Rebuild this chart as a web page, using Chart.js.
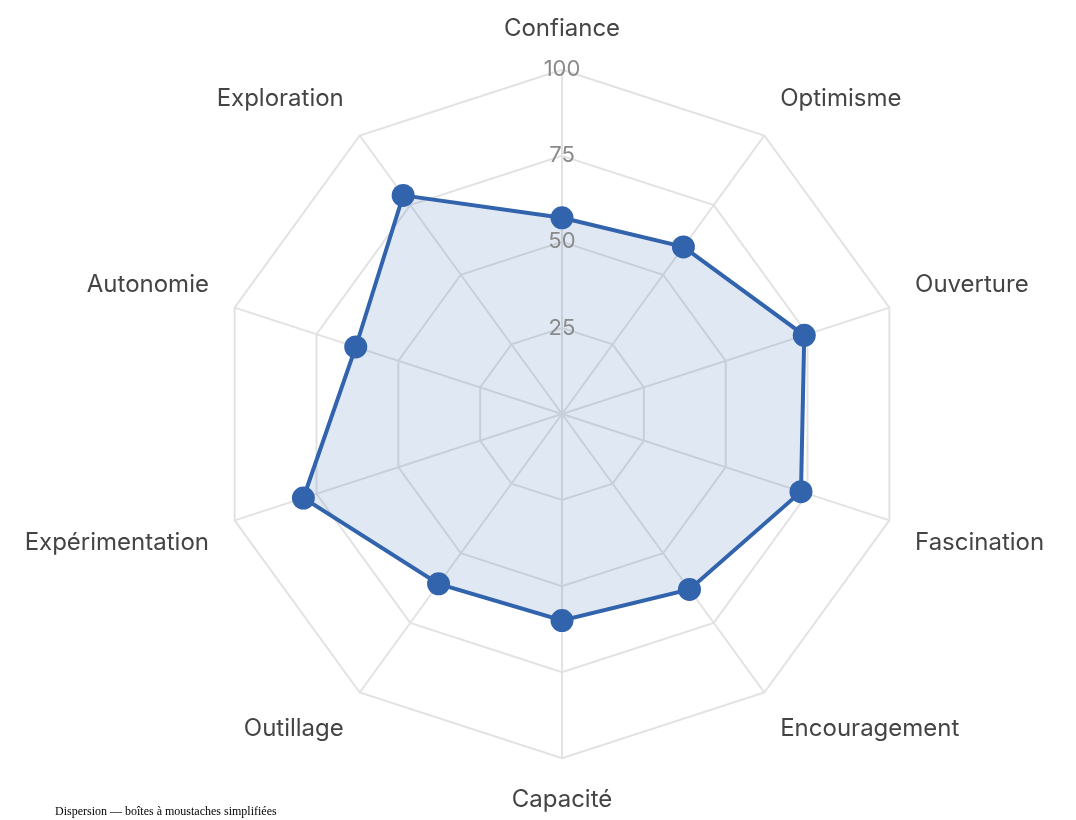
<!DOCTYPE html>
<html lang="fr">
<head>
<meta charset="utf-8">
<title>Radar</title>
<script src="https://cdn.jsdelivr.net/npm/chart.js@4.4.1/dist/chart.umd.min.js"></script>
<style>
    html, body { margin: 0; padding: 0; background: #fff; }
    #zone { position: relative; width: 1076px; height: 820px; }
    #zone canvas { position: absolute; left: 0; top: 0; }
    .legende {
        position: absolute; left: 55px; top: 804px;
        font-family: "Liberation Serif", "DejaVu Serif", serif;
        font-size: 12px; color: #000;
    }
</style>
</head>
<body>
<div id="zone">
    <canvas id="graficoRadar" width="1076" height="820"></canvas>
    <div class="legende">Dispersion — boîtes à moustaches simplifiées</div>
</div>
<script>
// axes du radar, dans l'ordre horaire depuis le haut
const axes = ['Confiance', 'Optimisme', 'Ouverture', 'Fascination', 'Encouragement',
              'Capacité', 'Outillage', 'Expérimentation', 'Autonomie', 'Exploration'];
const scores = [57, 60, 74, 73, 63, 60, 61, 79, 63, 78.5];
const graduations = [25, 50, 75, 100];

const bleu = '#3263ad';
const police = 'Inter, "Liberation Sans", Arial, sans-serif';

new Chart(document.getElementById('graficoRadar').getContext('2d'), {
    type: 'radar',
    data: {
        labels: axes,
        datasets: [{
            label: 'Score',
            data: scores,
            borderColor: bleu,
            backgroundColor: 'rgba(50,99,173,0.15)',
            borderWidth: 4,
            fill: true,
            pointRadius: 11.5,
            pointHoverRadius: 11.5,
            pointBackgroundColor: bleu,
            pointBorderColor: bleu,
            pointBorderWidth: 0
        }]
    },
    options: {
        responsive: false,
        animation: false,
        layout: { padding: { top: 8, bottom: 0, left: 0, right: 0 } },
        plugins: { legend: { display: false }, tooltip: { enabled: false } },
        scales: {
            r: {
                min: 0,
                max: 100,
                afterBuildTicks: (s) => { s.ticks = [0, ...graduations].map(v => ({ value: v })); },
                ticks: {
                    color: '#8a8a8a',
                    font: { family: police, size: 22 },
                    showLabelBackdrop: false,
                    z: 1,
                    callback: (v) => v === 0 ? '' : v
                },
                grid: { color: '#e2e2e2', lineWidth: 2 },
                angleLines: { color: '#e2e2e2', lineWidth: 2 },
                pointLabels: {
                    color: '#444',
                    font: { family: police, size: 24 },
                    padding: 14
                }
            }
        }
    }
});
</script>
</body>
</html>
